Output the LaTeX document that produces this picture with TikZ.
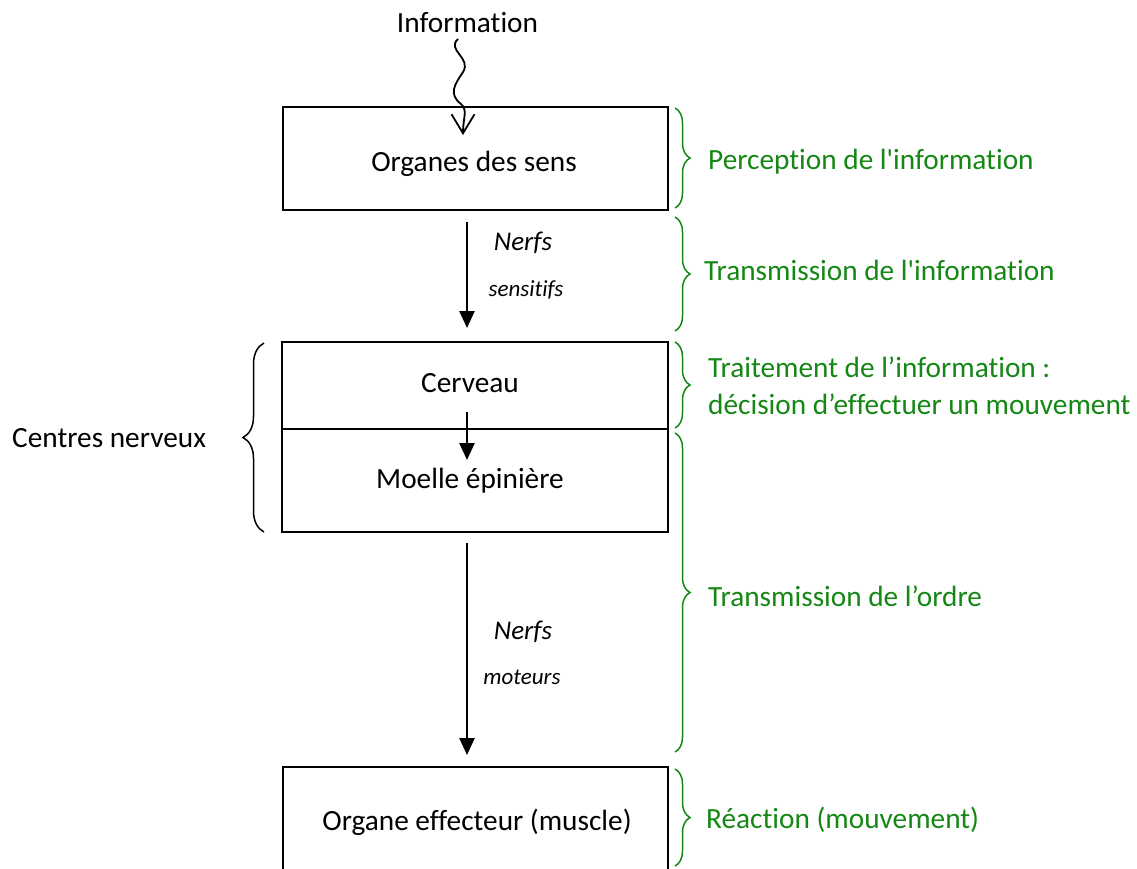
\documentclass[tikz,border=0pt]{standalone}
\usepackage{fontspec}
\setmainfont{Carlito}[Ligatures={NoCommon}]
\newfontfamily\carnomap{Carlito}[Ligatures={NoCommon}]
\usetikzlibrary{arrows.meta,decorations.pathreplacing}
\definecolor{vert}{RGB}{20,135,20}
\newcommand{\apos}{{\carnomap '}}
\begin{document}
\begin{tikzpicture}[x=1pt,y=-1pt,
  box/.style={draw,line width=1.5pt,inner sep=0pt},
  lbl/.style={font=\fontsize{29.3}{34}\selectfont,inner sep=0pt},
  glbl/.style={lbl,text=vert,anchor=base west},
  nerf/.style={font=\fontsize{27}{30}\selectfont\itshape,inner sep=0pt},
  nerfsmall/.style={font=\fontsize{23}{26}\selectfont\itshape,inner sep=0pt},
  flow/.style={line width=2.5pt,-{Triangle[length=17pt,width=15pt]}},
  wave/.style={line width=1.8pt,-{Straight Barb[length=19pt,width=23pt]}},
  gbrace/.style={draw=vert,line width=1.5pt,decorate,decoration={brace,amplitude=15pt}},
  kbrace/.style={draw=black,line width=1.5pt,decorate,decoration={brace,amplitude=21pt}},
  ]
\useasboundingbox (0,0) rectangle (1137,868);

% boxes
\node[box,minimum width=385pt,minimum height=103pt] (sens) at (475.5,158.5) {};
\node[box,minimum width=386pt,minimum height=87pt] (cerv) at (475,385.5) {};
\node[box,minimum width=386pt,minimum height=103pt] (moel) at (475,480.5) {};
\node[box,minimum width=385pt,minimum height=104pt] (eff) at (475.5,819) {};

% texts in boxes
\node[lbl,anchor=base] (tsens) at (474,171) {Organes des sens};
\node[lbl,anchor=base] (tcerv) at (470,392) {Cerveau};
\node[lbl,anchor=base] (tmoel) at (470,488) {Moelle épinière};
\node[lbl,anchor=base] (teff) at (477,830) {Organe effecteur (muscle)};

% information + wavy arrow
\node[lbl,anchor=base] (info) at (467.5,32) {Information};
\coordinate (w0) at (458,39);
\coordinate (w1) at (463,135);
\draw[wave] (w0) .. controls (446,50) and (472,58) .. (463,72)
  .. controls (455,84) and (448,94) .. (461,104)
  .. controls (468,110) and (463,118) .. (w1);

% flow arrows
\coordinate (a1s) at (467,222);
\coordinate (a1e) at (467,328);
\draw[flow] (a1s) -- (a1e);
\coordinate (a2s) at (467,412);
\coordinate (a2e) at (467,460);
\draw[flow] (a2s) -- (a2e);
\coordinate (a3s) at (467,543);
\coordinate (a3e) at (467,755);
\draw[flow] (a3s) -- (a3e);

% nerve labels
\node[nerf] (n1) at (523,243) {Nerfs};
\node[nerfsmall] (n1b) at (526,290) {sensitifs};
\node[nerf] (n2) at (523,632) {Nerfs};
\node[nerfsmall] (n2b) at (522,677) {moteurs};

% left brace
\draw[kbrace] (264,532) -- (264,343);
\node[lbl,anchor=base west] (centres) at (12,447) {Centres nerveux};

% green braces
\draw[gbrace] (675,108) -- (675,208);
\draw[gbrace] (675,217) -- (675,331);
\draw[gbrace] (675,342) -- (675,428);
\draw[gbrace] (675,433) -- (675,752);
\draw[gbrace] (675,769) -- (675,866);

\node[glbl] (g1) at (708,169) {Perception de l\apos information};
\node[glbl] (g2) at (704,280) {Transmission de l\apos information};
\node[glbl] (g3) at (708,377) {Traitement de l’information :};
\node[glbl] (g3b) at (708,414) {décision d’effectuer un mouvement};
\node[glbl] (g4) at (708,606) {Transmission de l’ordre};
\node[glbl] (g5) at (706,828) {Réaction (mouvement)};
\end{tikzpicture}
\end{document}
